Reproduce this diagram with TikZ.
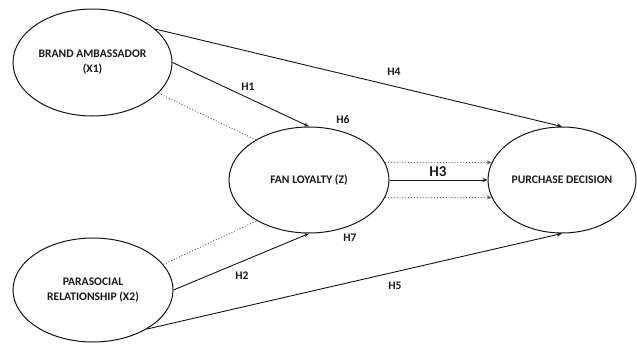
\documentclass[tikz,border=0pt]{standalone}
\usepackage{fontspec}
\setmainfont{Carlito}
\usetikzlibrary{shapes.geometric, arrows.meta}
\definecolor{inkline}{RGB}{20, 20, 20}
\definecolor{dotline}{RGB}{90, 90, 90}

\begin{document}
\begin{tikzpicture}[x=1pt, y=-1pt,
    construct/.style={ellipse, draw=inkline, line width=1pt, inner sep=0pt, align=center,
      font=\fontsize{11.6}{15}\selectfont\bfseries, text=black!90},
    path/.style={draw=inkline, line width=0.9pt, -{Stealth[length=5pt, width=4pt]}},
    mediated/.style={draw=dotline, line width=0.9pt, dotted},
    hyp/.style={font=\fontsize{11.6}{12}\selectfont\bfseries, text=black!90, inner sep=1pt}]
          \useasboundingbox (0,0) rectangle (637,343);
          % constructs
          \node[construct, minimum width=159pt, minimum height=107pt] (ba) at (92.5,62.5) {BRAND AMBASSADOR\\(X1)};
          \node[construct, minimum width=160pt, minimum height=104pt] (pr) at (93,290) {PARASOCIAL\\RELATIONSHIP (X2)};
          \node[construct, minimum width=160pt, minimum height=106pt] (fl) at (309,180) {FAN LOYALTY (Z)};
          \node[construct, minimum width=148pt, minimum height=106pt] (pd) at (562,180) {PURCHASE DECISION};
          % direct paths
          \draw[path] (ba.28) -- (pd.north);
          \draw[path] (ba.east) -- (fl.north);
          \draw[path] (pr.east) -- (fl.south);
          \draw[path] (pr.-36.5) -- (pd.south);
          \draw[path] (fl.east) -- (pd.west);
          % mediated paths
          \draw[mediated] (ba.-25) -- (fl.143);
          \draw[mediated] (pr.20) -- (fl.-142);
          \draw[mediated, -{Stealth[length=5pt, width=4pt]}] (fl.13) -- (pd.166);
          \draw[mediated, -{Stealth[length=5pt, width=4pt]}] (fl.-13) -- (pd.-166);
          % labels
          \node[hyp] (h1) at (248,87) {H1};
          \node[hyp] (h2) at (242,276) {H2};
          \node[hyp, font=\fontsize{15}{16}\selectfont\bfseries] (h3) at (438,172) {H3};
          \node[hyp] (h4) at (394,72) {H4};
          \node[hyp] (h5) at (395,286) {H5};
          \node[hyp] (h6) at (343,120) {H6};
          \node[hyp] (h7) at (350,238) {H7};
        \end{tikzpicture}
\end{document}
